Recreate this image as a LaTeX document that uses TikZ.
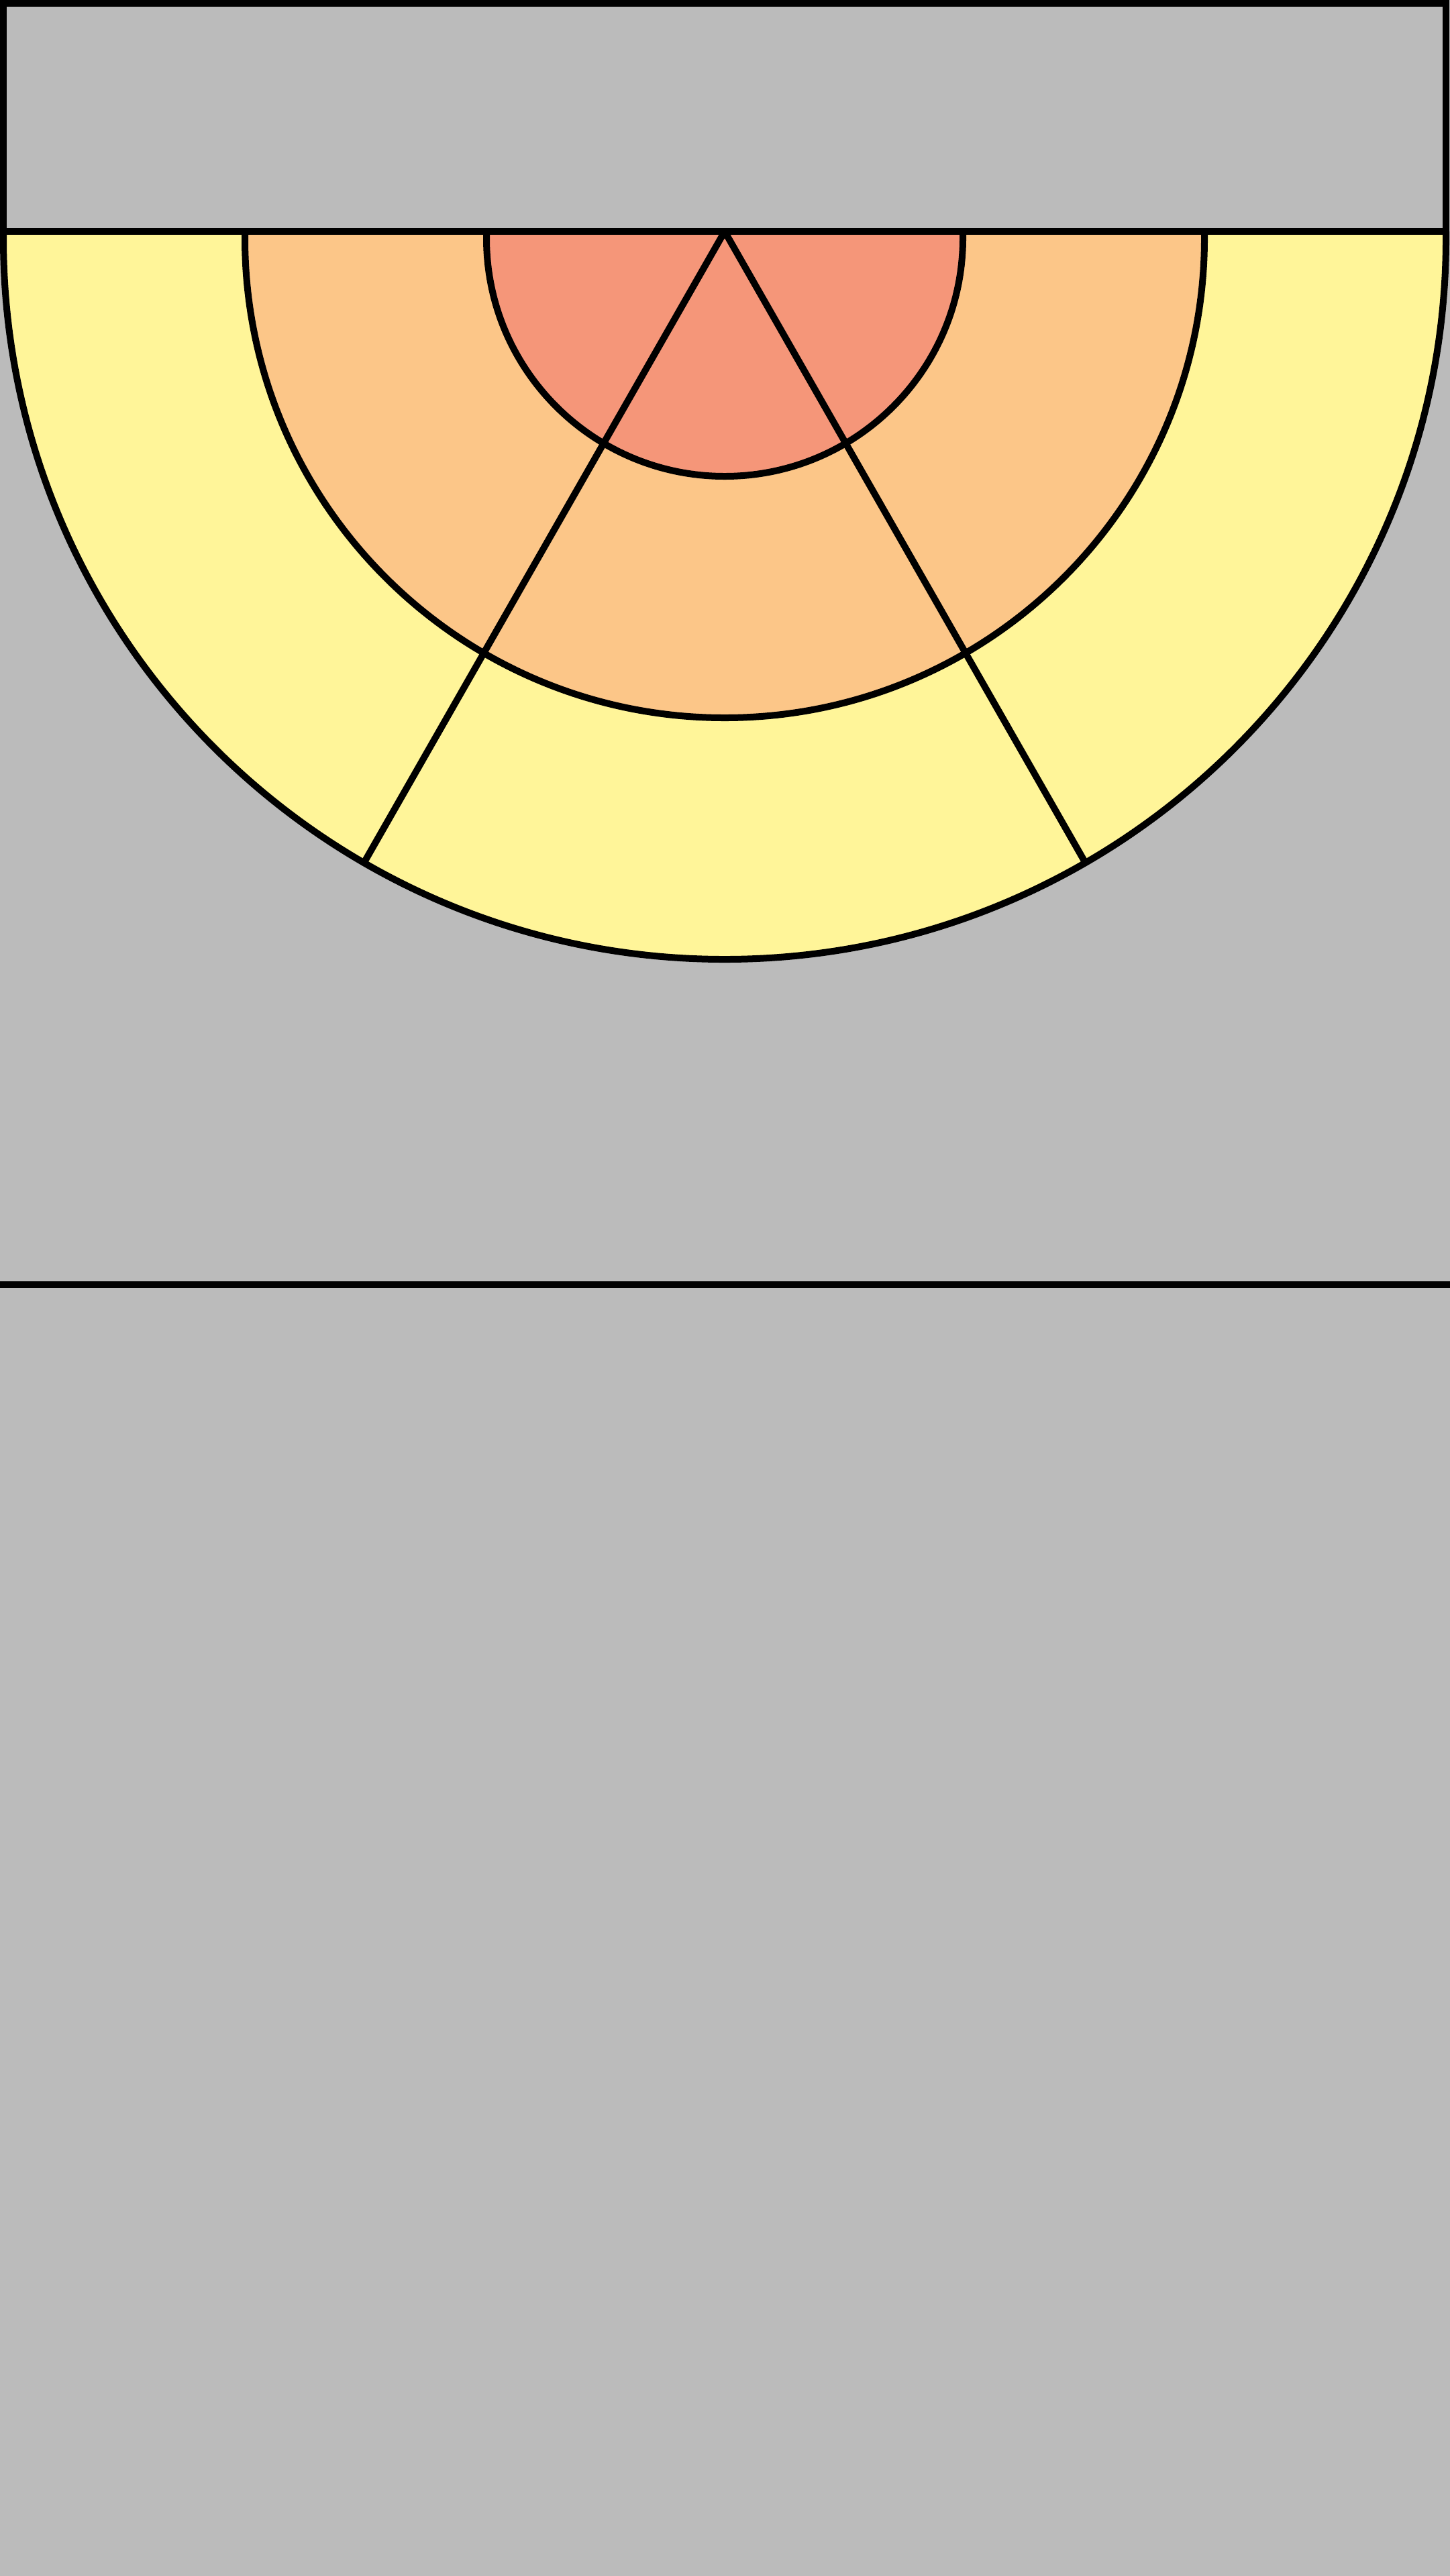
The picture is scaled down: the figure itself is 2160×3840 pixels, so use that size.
\documentclass[tikz,border=0pt]{standalone}
\definecolor{bggray}{HTML}{BBBBBB}
\definecolor{ringyellow}{HTML}{FFF599}
\definecolor{ringorange}{HTML}{FCC688}
\definecolor{ringsalmon}{HTML}{F59679}
\tikzset{
  outline/.style={draw=black, line width=10bp, line join=miter},
}
\begin{document}
\begin{tikzpicture}[x=1bp,y=1bp]
\useasboundingbox (0,0) rectangle (2160,-3840);
\fill[bggray] (-10,10) rectangle (2170,-3850);
% top panel
\draw[outline, fill=bggray] (5,-5) rectangle (2155,-345);
\coordinate (C) at (1080,-355);
\coordinate (apex) at (1080,-345);
% rings (filled)
\fill[ringyellow] (5,-345) -- (5,-355) arc[start angle=180,end angle=360,radius=1075bp] -- (2155,-345) -- cycle;
\fill[ringorange] (365,-345) -- (365,-355) arc[start angle=180,end angle=360,radius=715bp] -- (1795,-345) -- cycle;
\fill[ringsalmon] (725,-345) -- (725,-355) arc[start angle=180,end angle=360,radius=355bp] -- (1435,-345) -- cycle;
% ring outlines
\draw[outline] (5,-345) -- (5,-355) arc[start angle=180,end angle=360,radius=1075bp] -- (2155,-345);
\draw[outline] (365,-345) -- (365,-355) arc[start angle=180,end angle=360,radius=715bp] -- (1795,-345);
\draw[outline] (725,-345) -- (725,-355) arc[start angle=180,end angle=360,radius=355bp] -- (1435,-345);
% spokes
\coordinate (spokeL) at ([shift={(240:1075bp)}]C);
\coordinate (spokeR) at ([shift={(300:1075bp)}]C);
\draw[outline, line join=round] (spokeL) -- (apex) -- (spokeR);
% top dividing line
\draw[outline] (5,-345) -- (2155,-345);
% lower horizontal line
\coordinate (hl) at (-10,-1915);
\coordinate (hr) at (2170,-1915);
\draw[outline] (hl) -- (hr);
\end{tikzpicture}
\end{document}
